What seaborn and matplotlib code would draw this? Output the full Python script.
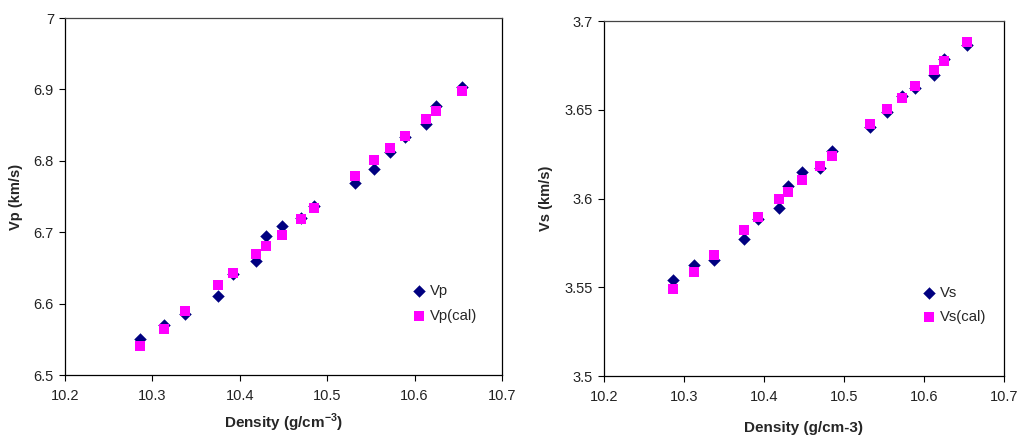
import matplotlib
matplotlib.use("Agg")
import matplotlib.pyplot as plt
from matplotlib.ticker import FuncFormatter, MultipleLocator
import numpy as np
import pandas as pd
import seaborn as sns

# Measured density and velocities
density = [10.286, 10.313, 10.337, 10.375, 10.392, 10.419, 10.430, 10.448, 10.470,
           10.485, 10.532, 10.554, 10.572, 10.589, 10.613, 10.625, 10.654]
vp = [6.550, 6.570, 6.586, 6.611, 6.641, 6.660, 6.695, 6.708, 6.720,
      6.737, 6.769, 6.788, 6.812, 6.834, 6.851, 6.877, 6.903]
vp_cal = [6.540, 6.565, 6.590, 6.626, 6.643, 6.669, 6.680, 6.696, 6.719,
          6.734, 6.779, 6.801, 6.818, 6.835, 6.858, 6.870, 6.898]
vs = [3.5540, 3.5627, 3.5654, 3.5772, 3.5885, 3.5945, 3.6073, 3.6152, 3.6174,
      3.6270, 3.6404, 3.6488, 3.6580, 3.6622, 3.6698, 3.6785, 3.6866]
vs_cal = [3.5490, 3.5588, 3.5684, 3.5823, 3.5895, 3.5996, 3.6036, 3.6105, 3.6184,
          3.6238, 3.6417, 3.6503, 3.6567, 3.6636, 3.6723, 3.6772, 3.6879]

sns.set_theme(style="white")
plt.rcParams['font.family'] = ['Liberation Sans', 'DejaVu Sans']
plt.rcParams['mathtext.fontset'] = 'custom'
plt.rcParams['mathtext.rm'] = 'Liberation Sans'
plt.rcParams['mathtext.bf'] = 'Liberation Sans:bold'

fig = plt.figure(figsize=(10.2, 4.36), dpi=100)
W, H = 1020, 436
ax1 = fig.add_axes([65 / W, 1 - 375 / H, (502 - 65) / W, (375 - 18) / H])
ax2 = fig.add_axes([604 / W, 1 - 376 / H, (1004 - 604) / W, (376 - 21) / H])

navy = "#000080"
magenta = "#FF00FF"


def draw(ax, y_meas, y_cal, names, ylim, ystep, ylabel, xlabel, xlab_y):
    df = pd.DataFrame({"density": density, "meas": y_meas, "cal": y_cal})
    sns.scatterplot(data=df, x="density", y="meas", ax=ax, marker="D", s=36,
                    color=navy, edgecolor=navy, linewidth=0.3, label=names[0], zorder=3)
    sns.scatterplot(data=df, x="density", y="cal", ax=ax, marker="s", s=46,
                    color=magenta, edgecolor=magenta, linewidth=0, label=names[1], zorder=4)
    ax.set_xlim(10.2, 10.7)
    ax.set_ylim(*ylim)
    ax.xaxis.set_major_locator(MultipleLocator(0.1))
    ax.yaxis.set_major_locator(MultipleLocator(ystep))
    fmt = FuncFormatter(lambda v, p: "%g" % round(v, 3))
    ax.xaxis.set_major_formatter(fmt)
    ax.yaxis.set_major_formatter(fmt)
    ax.tick_params(axis="both", which="major", direction="out", length=4, width=0.8,
                   color="black", labelsize=10.5, labelcolor="#222222",
                   bottom=True, left=True)
    ax.tick_params(axis="x", pad=6)
    ax.tick_params(axis="y", pad=4)
    for sp in ax.spines.values():
        sp.set_color("black")
        sp.set_linewidth(0.9)
    ax.spines["top"].set_color("#444444")
    ax.set_xlabel(xlabel, fontsize=11, fontweight="bold", va="baseline")
    ax.xaxis.set_label_coords(0.5, xlab_y)
    ax.set_ylabel(ylabel, fontsize=10.5, fontweight="bold", labelpad=8)
    leg = ax.legend(loc="center left", bbox_to_anchor=(0.78, 0.2), frameon=False,
                    fontsize=10.7, handletextpad=0.2, labelspacing=0.7,
                    handlelength=1.0, borderaxespad=0)
    return leg


draw(ax1, vp, vp_cal, ["Vp", "Vp(cal)"], (6.5, 7.0), 0.1,
     "Vp (km/s)", r"Density (g/cm$^{\mathbf{-3}}$)", -0.1485)
draw(ax2, vs, vs_cal, ["Vs", "Vs(cal)"], (3.5, 3.7), 0.05,
     "Vs (km/s)", "Density (g/cm-3)", -0.1577)

fig.savefig("out.png", dpi=100, facecolor="white")
